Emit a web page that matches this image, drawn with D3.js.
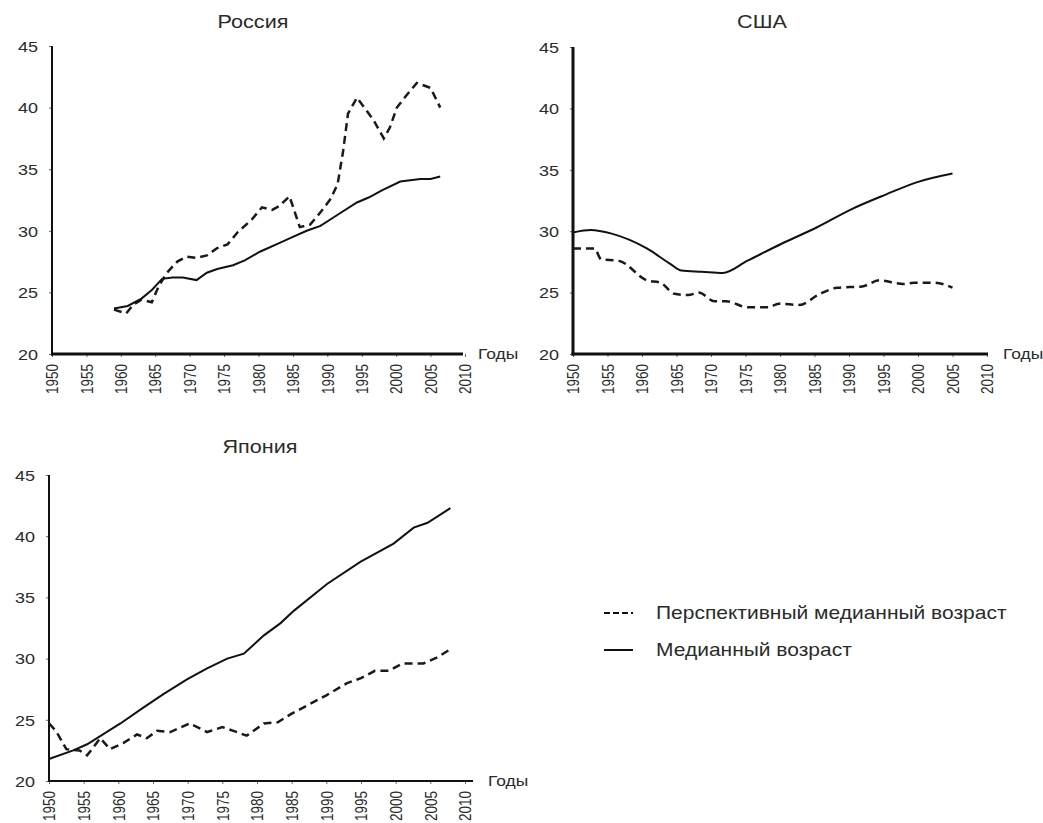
<!DOCTYPE html>
<html><head><meta charset="utf-8">
<script src="https://cdn.jsdelivr.net/npm/d3@7"></script>
<style>body{margin:0;background:#fff}svg{display:block}</style>
</head><body>
<svg id="c" width="1043" height="823"></svg>
<script>
// ---- data ----
const xTicks = [1950,1955,1960,1965,1970,1975,1980,1985,1990,1995,2000,2005,2010];
const yTicks = [20,25,30,35,40,45];
const titles = ["Россия","США","Япония"];
const axisLabel = "Годы";
const legendLabels = ["Перспективный медианный возраст","Медианный возраст"];

const russiaMedYears  = [1959,1961,1963,1964.5,1966,1967.5,1969,1971,1972.5,1974,1976.3,1978,1980.2,1983,1985,1987,1989,1991.5,1994.3,1996,1998,2000.6,2003.5,2005,2006.4];
const russiaMedValues = [23.7,23.9,24.5,25.2,26.1,26.2,26.2,26.0,26.6,26.9,27.2,27.6,28.3,29.0,29.5,30.0,30.4,31.3,32.3,32.7,33.3,34.0,34.2,34.2,34.4];
const russiaPerYears  = [1959,1960.8,1961.8,1963,1964.5,1965.5,1966.7,1968.2,1969.5,1971,1972.5,1974,1975.5,1977,1979,1980.5,1982,1983,1984.5,1986,1987.5,1989,1990.5,1991.5,1992.3,1993,1994.3,1996.7,1998.2,1999.1,2000.1,2001.5,2003,2005,2006.4];
const russiaPerValues = [23.6,23.3,24.0,24.4,24.2,25.5,26.6,27.5,27.9,27.8,28.0,28.6,28.9,29.9,30.9,31.9,31.7,32.0,32.8,30.3,30.5,31.5,32.6,33.8,36.5,39.5,40.8,39.0,37.5,38.4,40.0,41.0,42.0,41.6,40.0];

const usaMedYears  = [1950,1952.6,1955.6,1960.7,1964.2,1965.7,1968.7,1971.7,1975.3,1980.3,1985.3,1990.4,1995.4,1999.9,2005];
const usaMedValues = [29.9,30.1,29.8,28.6,27.3,26.8,26.7,26.6,27.6,29.0,30.3,31.8,33.0,34.0,34.7];
const usaPerYears  = [1950,1953.1,1954.1,1956.6,1960.7,1962.7,1964.7,1966.7,1968.2,1970.5,1972.2,1975.3,1978.3,1979.8,1982.8,1985.8,1988.3,1991.9,1994.4,1997.9,1999.4,2002.4,2005];
const usaPerValues = [28.6,28.6,27.7,27.6,26.0,25.8,24.9,24.8,25.0,24.3,24.3,23.8,23.8,24.1,24.0,24.9,25.4,25.5,26.0,25.7,25.8,25.8,25.4];

const japanMedYears  = [1950,1953.5,1955.5,1960.3,1963.6,1966.5,1969.9,1972.8,1975.7,1978.1,1981,1983.4,1985.3,1990.1,1994.9,1999.7,2002.6,2004.6,2007.9];
const japanMedValues = [21.8,22.5,23.0,24.7,26.0,27.1,28.3,29.2,30.0,30.4,31.9,32.9,33.9,36.1,37.9,39.4,40.7,41.1,42.3];
const japanPerYears  = [1950,1951,1952.5,1954.4,1955.5,1957.4,1958.8,1960.7,1962.7,1964.1,1965.6,1967.5,1970.3,1972.8,1975,1976.6,1978.5,1981,1983,1985,1987,1990,1993,1995,1997,1999,2001,2004,2006,2008];
const japanPerValues = [24.7,24.1,22.6,22.5,22.1,23.5,22.6,23.1,23.8,23.5,24.1,24.0,24.7,24.0,24.4,24.1,23.7,24.7,24.8,25.5,26.1,27.0,28.0,28.4,29.0,29.0,29.6,29.6,30.1,30.8];

// ---- layout ----
const panels = [
  {title:titles[0], x0:52, x1:465, axisEnd:463, yTop:46, yBot:354, titleX:253, titleY:22, yW:2, xW:3,
   med:[russiaMedYears,russiaMedValues], per:[russiaPerYears,russiaPerValues], curve:d3.curveLinear},
  {title:titles[1], x0:573, x1:987, axisEnd:988, yTop:47, yBot:354, titleX:762, titleY:22, yW:3, xW:3,
   med:[usaMedYears,usaMedValues], per:[usaPerYears,usaPerValues], curve:d3.curveMonotoneX},
  {title:titles[2], x0:49, x1:465, axisEnd:473, yTop:475, yBot:781, titleX:260, titleY:447, yW:2, xW:2,
   med:[japanMedYears,japanMedValues], per:[japanPerYears,japanPerValues], curve:d3.curveLinear}
];

const svg = d3.select("#c");
const FONT = "'Liberation Sans', Arial, Helvetica, sans-serif";
const TXT = "#2b2b2b";
const SX = 1.2; // horizontal stretch of the reference text

function hText(x, y, str, size, anchor){
  return svg.append("text")
    .attr("transform", `translate(${x},${y}) scale(${SX},1)`)
    .attr("text-anchor", anchor).attr("dy","0.35em")
    .attr("font-family", FONT).attr("font-size", size).attr("fill", TXT)
    .text(str);
}

panels.forEach(p => {
  const x = d3.scaleLinear().domain([1950,2010]).range([p.x0,p.x1]);
  const y = d3.scaleLinear().domain([20,45]).range([p.yBot,p.yTop]);

  // y axis
  const ya = svg.append("g").attr("transform",`translate(${p.x0},0)`)
    .call(d3.axisLeft(y).tickValues(yTicks).tickSize(3).tickSizeOuter(0));
  ya.select(".domain").remove();
  ya.selectAll(".tick line").attr("stroke","#666");
  ya.selectAll(".tick text")
    .attr("x",null).attr("dy","0.35em")
    .attr("transform",`translate(-14,0) scale(${SX},1)`)
    .attr("text-anchor","end")
    .attr("font-family",FONT).attr("font-size",15).attr("fill",TXT);

  // x axis
  const xa = svg.append("g").attr("transform",`translate(0,${p.yBot})`)
    .call(d3.axisBottom(x).tickValues(xTicks).tickFormat(d3.format("d")).tickSize(3).tickSizeOuter(0));
  xa.select(".domain").remove();
  xa.selectAll(".tick line").attr("stroke","#666");
  xa.selectAll(".tick text")
    .attr("y",null).attr("dy","0.35em")
    .attr("transform",`translate(0,10) scale(${SX},1) rotate(-90)`)
    .attr("text-anchor","end")
    .attr("font-family",FONT).attr("font-size",13.5).attr("fill",TXT);

  // axis lines
  svg.append("line").attr("x1",p.x0).attr("x2",p.x0).attr("y1",p.yTop).attr("y2",p.yBot+p.xW/2)
    .attr("stroke","#111").attr("stroke-width",p.yW);
  svg.append("line").attr("x1",p.x0-p.yW/2).attr("x2",p.axisEnd).attr("y1",p.yBot).attr("y2",p.yBot)
    .attr("stroke","#111").attr("stroke-width",p.xW);

  hText(p.axisEnd+15, p.yBot, axisLabel, 14.5, "start");
  hText(p.titleX, p.titleY, p.title, 18, "middle");

  const line = d3.line().x(d=>x(d[0])).y(d=>y(d[1])).curve(p.curve);
  const per = p.per[0].map((yr,i)=>[yr,p.per[1][i]]);
  const med = p.med[0].map((yr,i)=>[yr,p.med[1][i]]);
  svg.append("path").datum(per).attr("d",line).attr("fill","none")
    .attr("stroke","#1a1a1a").attr("stroke-width",2.5).attr("stroke-dasharray","8,5");
  svg.append("path").datum(med).attr("d",line).attr("fill","none")
    .attr("stroke","#111").attr("stroke-width",2);
});

// legend
const lg = [{y:613, dash:"6,3"},{y:650, dash:null}];
lg.forEach((l,i)=>{
  const ln = svg.append("line").attr("x1",604).attr("x2",633).attr("y1",l.y).attr("y2",l.y)
    .attr("stroke","#111").attr("stroke-width",2);
  if(l.dash) ln.attr("stroke-dasharray",l.dash);
  hText(656, l.y, legendLabels[i], 17.5, "start");
});
</script>
</body></html>
